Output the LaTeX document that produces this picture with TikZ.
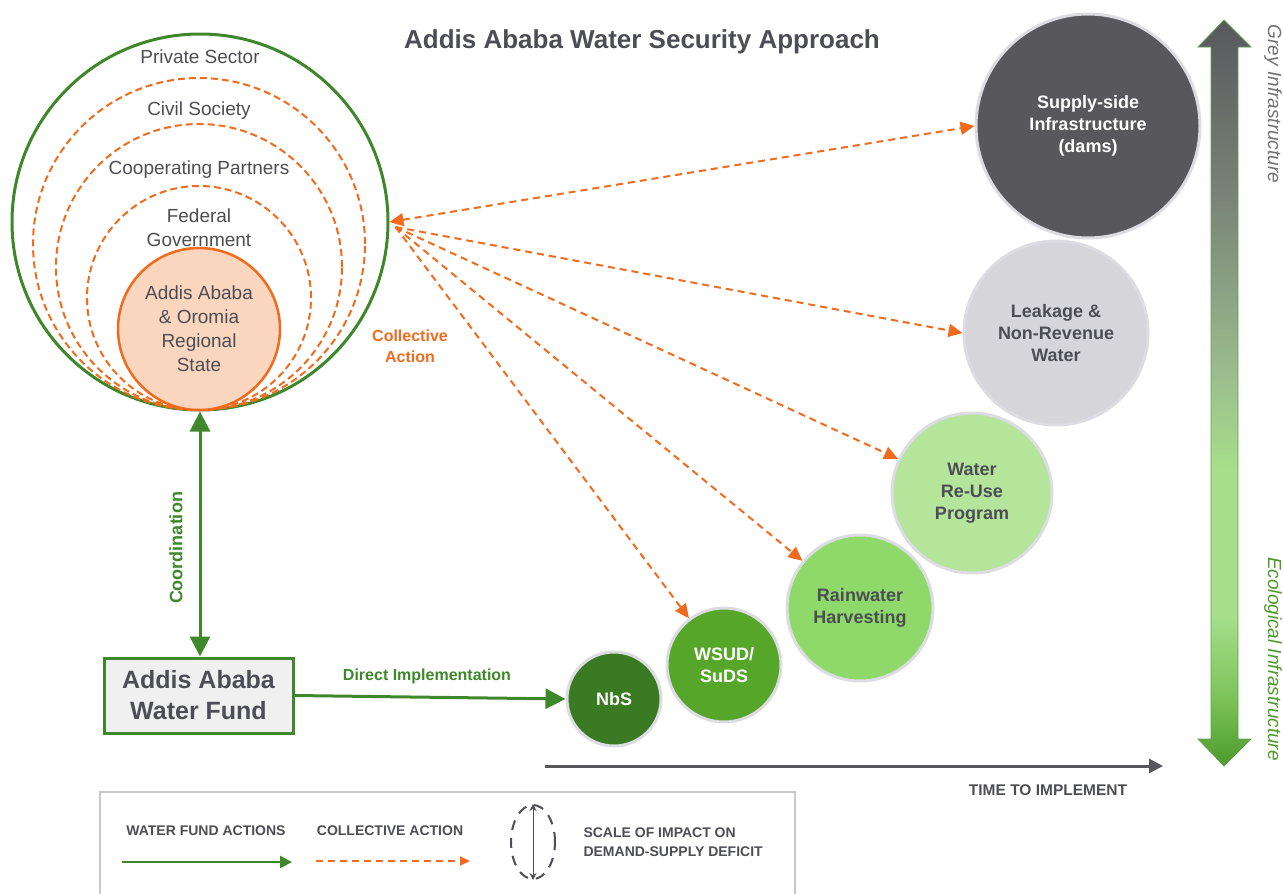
\documentclass[tikz,border=0pt]{standalone}
\usepackage{fontspec}
\setmainfont{Liberation Sans}
\usetikzlibrary{arrows.meta,calc,positioning,shapes.geometric}

\definecolor{fundgreen}{RGB}{62,135,42}
\definecolor{actorange}{RGB}{242,107,29}
\definecolor{peach}{RGB}{251,214,190}
\definecolor{labelgrey}{RGB}{77,77,85}
\definecolor{ringgrey}{RGB}{220,220,226}
\definecolor{darkgrey}{RGB}{88,87,91}
\definecolor{leakgrey}{RGB}{214,213,218}
\definecolor{reusegreen}{RGB}{180,229,155}
\definecolor{raingreen}{RGB}{143,216,106}
\definecolor{wsudgreen}{RGB}{86,166,42}
\definecolor{nbsgreen}{RGB}{58,122,34}
\definecolor{boxgrey}{RGB}{240,240,240}
\definecolor{legendgrey}{RGB}{200,200,200}
\definecolor{ecobottom}{RGB}{76,154,42}
\definecolor{ecolow}{RGB}{124,195,90}
\definecolor{ecolight}{RGB}{166,222,138}
\definecolor{ecomid}{RGB}{156,190,142}
\definecolor{greymid}{RGB}{122,132,120}
\definecolor{greytop}{RGB}{88,88,92}

% grey to green fill of the infrastructure scale
% (tikz maps the path onto the band 25bp--75bp)
\pgfdeclareverticalshading{greytoeco}{100bp}{
  color(0bp)=(ecobottom);
  color(25bp)=(ecobottom);
  color(29.5bp)=(ecolow);
  color(35bp)=(ecolight);
  color(45bp)=(ecolight);
  color(51bp)=(ecomid);
  color(63bp)=(greymid);
  color(75bp)=(greytop);
  color(100bp)=(greytop)}

\tikzset{
  actorlabel/.style={text=labelgrey, align=center,
    font=\fontsize{19}{24}\selectfont},
  ring/.style={circle, draw=actorange, line width=2pt,
    dash pattern=on 7pt off 4pt, inner sep=0pt},
  stage/.style={circle, draw=ringgrey, line width=3pt, inner sep=0pt,
    align=center, font=\bfseries\fontsize{18}{22}\selectfont},
  collective/.style={draw=actorange, line width=2pt,
    dash pattern=on 7pt off 5pt,
    -{Triangle[length=14pt,width=13pt]}},
  direct/.style={draw=fundgreen, line width=3pt,
    -{Triangle[length=20pt,width=20pt]}},
  legendtext/.style={text=labelgrey, align=left,
    font=\bfseries\fontsize{14}{19}\selectfont}
}

\begin{document}
\begin{tikzpicture}[x=1pt, y=1pt]
    \useasboundingbox (0,0) rectangle (1283,-894);

    % Title
    \node[text=labelgrey, font=\bfseries\fontsize{26}{30}\selectfont]
        (title) at (642,-42) {Addis Ababa Water Security Approach};

    % Circles of actors
    \node[circle, draw=fundgreen, line width=3pt, inner sep=0pt,
          minimum size=376pt] (outer) at (200,-222) {};
    \node[ring, minimum size=332pt] (civilring) at (199,-244) {};
    \node[ring, minimum size=286pt] (partnerring) at (199,-267) {};
    \node[ring, minimum size=224pt] (federalring) at (199,-298) {};
    \node[circle, draw=actorange, fill=peach, line width=2.5pt,
          inner sep=0pt, minimum size=162pt,
          actorlabel] (regional) at (199,-329)
          {Addis Ababa\\\& Oromia\\Regional\\State};
    \node[actorlabel] (private) at (200,-57) {Private Sector};
    \node[actorlabel] (civil) at (199,-111) {Civil Society};
    \node[actorlabel] (partners) at (199,-170) {Cooperating Partners};
    \node[actorlabel] (federal) at (199,-228) {Federal\\Government};

    \node[text=actorange, align=center,
          font=\bfseries\fontsize{16}{21}\selectfont]
          (collectivelabel) at (410,-346) {Collective\\Action};

    % The water fund
    \node[draw=fundgreen, fill=boxgrey, line width=3pt,
          minimum width=189pt, minimum height=75pt, align=center,
          text=labelgrey, font=\bfseries\fontsize{25}{31}\selectfont]
          (fund) at (198.5,-695.5) {Addis Ababa\\Water Fund};

    % Interventions, from quickest to slowest
    \node[stage, fill=nbsgreen, text=white,
          minimum size=94pt] (nbs) at (614,-699) {NbS};
    \node[stage, fill=wsudgreen, text=white,
          minimum size=114pt] (wsud) at (724,-665) {WSUD/\\SuDS};
    \node[stage, fill=raingreen, text=labelgrey,
          minimum size=146pt] (rain) at (860,-608) {Rainwater\\Harvesting};
    \node[stage, fill=reusegreen, text=labelgrey,
          minimum size=160pt] (reuse) at (972,-493) {Water\\Re-Use\\Program};
    \node[stage, fill=leakgrey, text=labelgrey,
          minimum size=184pt] (leakage) at (1056,-333)
          {Leakage \&\\Non-Revenue\\Water};
    \node[stage, fill=darkgrey, text=white,
          minimum size=224pt] (supply) at (1088,-126)
          {Supply-side\\Infrastructure\\(dams)};

    % Coordination and direct implementation
    \draw[direct, {Triangle[length=20pt,width=20pt]}-{Triangle[length=20pt,width=20pt]}]
        (outer.south) -- (outer.south |- fund.north);
    \node[rotate=90, text=fundgreen,
          font=\bfseries\fontsize{18}{22}\selectfont]
          (coordination) at (176,-548) {Coordination};
    \draw[direct] (fund.east) -- (nbs.west);
    \node[text=fundgreen, font=\bfseries\fontsize{16}{20}\selectfont]
          (directlabel) at (427,-676) {Direct Implementation};

    % Collective action arrows
    \coordinate (hub) at ($(outer.east)+(6,-5)$);
    \draw[collective, {Triangle[length=14pt,width=13pt]}-{Triangle[length=14pt,width=13pt]}]
        (outer.east) -- (supply.west);
    \draw[collective] (hub) -- (leakage.west);
    \draw[collective] (hub) -- (reuse);
    \draw[collective] (hub) -- (rain);
    \draw[collective] (hub) -- (wsud);

    % Grey to ecological scale
    \shadedraw[shading=greytoeco, draw=fundgreen!80!white, line width=0.8pt]
        (1224,-20) -- (1251,-47) -- (1238,-47) -- (1238,-739)
        -- (1251,-739) -- (1224,-766) -- (1198,-739) -- (1211,-739)
        -- (1211,-47) -- (1198,-47) -- cycle;
    \node[rotate=-90, text=darkgrey!85!white,
          font=\itshape\fontsize{19}{22}\selectfont]
          (greylabel) at (1273,-104) {Grey Infrastructure};
    \node[rotate=-90, text=ecobottom,
          font=\itshape\fontsize{19}{22}\selectfont]
          (ecolabel) at (1273,-659) {Ecological Infrastructure};

    % Time axis
    \coordinate (tstart) at (545,-766);
    \coordinate (tend) at (1163,-766);
    \draw[draw=darkgrey, line width=3pt,
          -{Triangle[length=14pt,width=14pt]}] (tstart) -- (tend);
    \node[text=labelgrey, font=\bfseries\fontsize{15.5}{19}\selectfont]
          (timelabel) at (1048,-790) {TIME TO IMPLEMENT};

    % Legend
    \draw[draw=legendgrey, line width=2pt] (100,-900) |- (795,-792) -- (795,-900);
    \node[legendtext] (legfund) at (206,-831) {WATER FUND ACTIONS};
    \coordinate (legfundA) at (122,-862);
    \coordinate (legfundB) at (292,-862);
    \draw[direct, line width=2.5pt,
          -{Triangle[length=12pt,width=12pt]}] (legfundA) -- (legfundB);
    \node[legendtext] (legcoll) at (390,-831) {COLLECTIVE ACTION};
    \coordinate (legcollA) at (316,-861);
    \coordinate (legcollB) at (470,-861);
    \draw[collective, -{Triangle[length=10pt,width=9pt]}] (legcollA) -- (legcollB);
    \node[ellipse, draw=labelgrey, line width=2pt,
          dash pattern=on 10pt off 8pt, inner sep=0pt,
          minimum width=44pt, minimum height=74pt] (legscale) at (533,-842) {};
    \draw[draw=labelgrey, line width=1pt,
          {Stealth[length=7pt,width=7pt]}-{Stealth[length=7pt,width=7pt]}]
        (legscale.north) -- (legscale.south);
    \node[legendtext, anchor=west] (legscaletext) at (580,-842)
          {SCALE OF IMPACT ON\\DEMAND-SUPPLY DEFICIT};
\end{tikzpicture}
\end{document}
